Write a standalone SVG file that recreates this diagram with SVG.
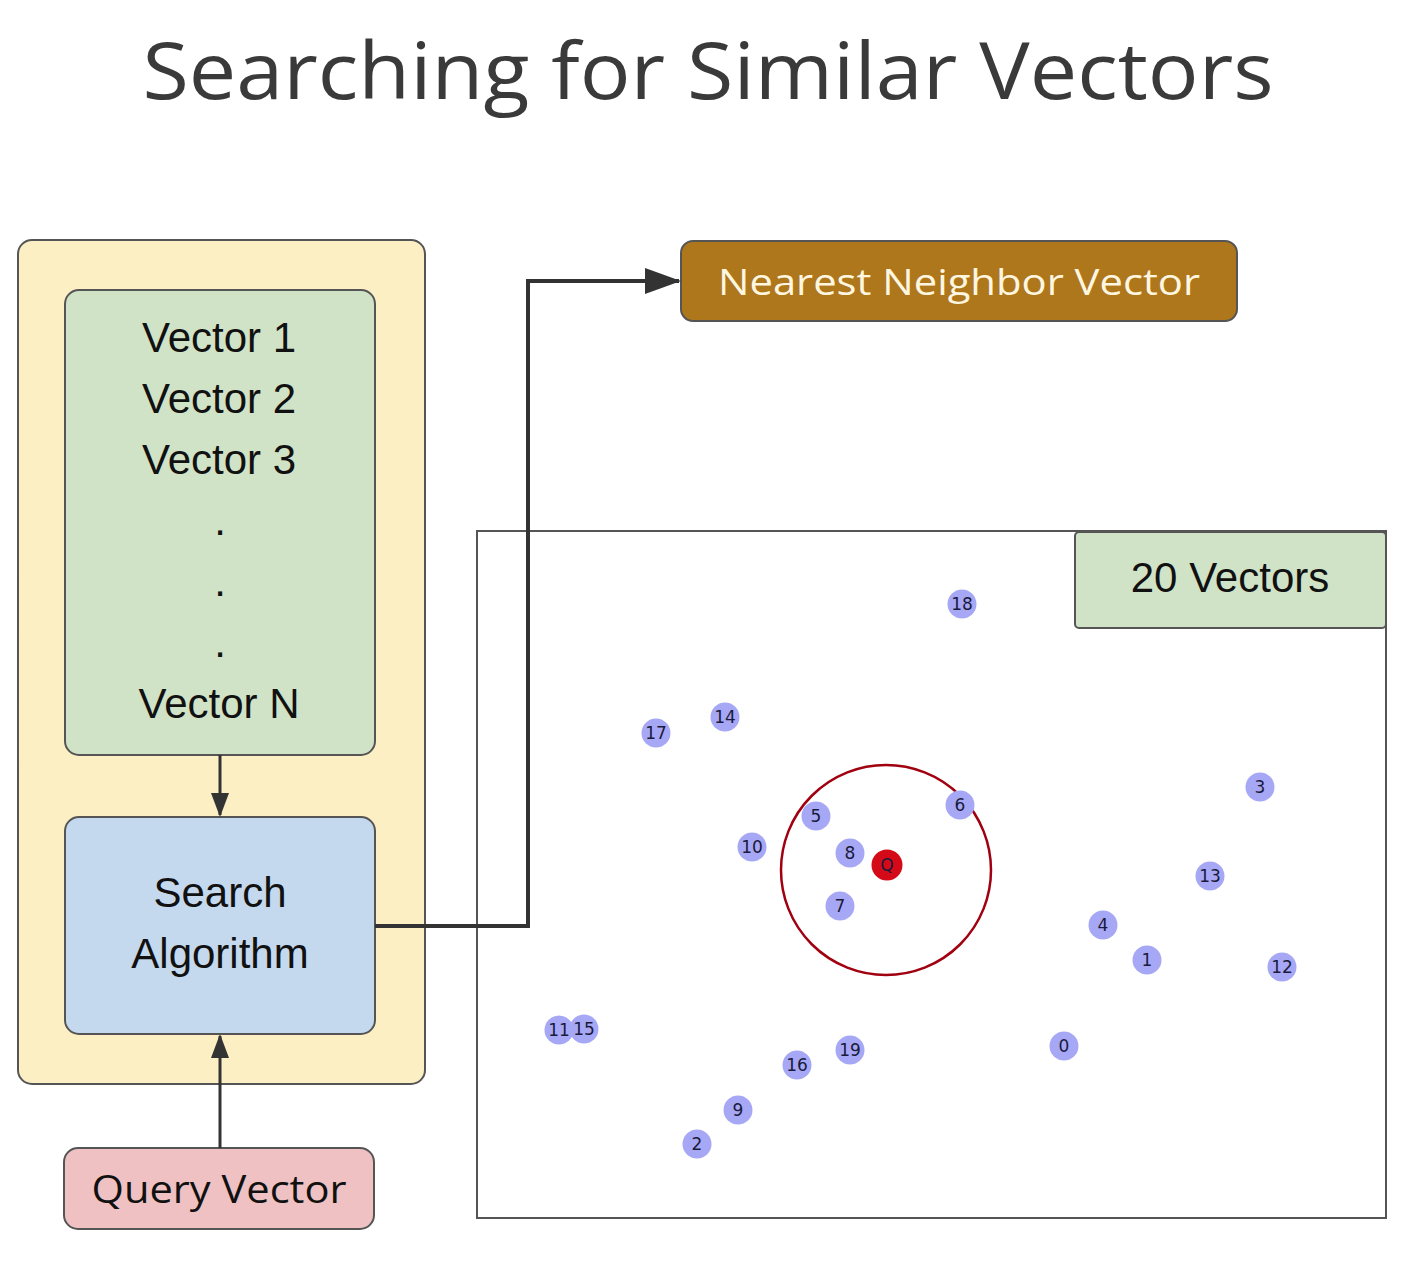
<svg xmlns="http://www.w3.org/2000/svg" width="1406" height="1266" viewBox="0 0 1406 1266">
<style>
.box{stroke:#555;stroke-width:2}
.big{font-family:"Liberation Sans",Arial,sans-serif;font-size:42px;fill:#111;text-anchor:middle}
.geo{font-family:"Open Sans","Noto Sans",sans-serif;text-anchor:middle}
.conn{fill:none;stroke:#333;stroke-width:4}
.pt{fill:#a6a8f6}
.pl{font-family:"DejaVu Sans",sans-serif;font-size:17px;fill:#1a1a3a;text-anchor:middle}
</style>
<defs>
<marker id="ahb" markerWidth="36" markerHeight="26" refX="34" refY="13" orient="auto" markerUnits="userSpaceOnUse" viewBox="0 0 36 26">
<path d="M0,0 L36,13 L0,26 z" fill="#333"/>
</marker>
<marker id="ahs" markerWidth="24" markerHeight="18" refX="22" refY="9" orient="auto" markerUnits="userSpaceOnUse" viewBox="0 0 24 18">
<path d="M0,0 L24,9 L0,18 z" fill="#333"/>
</marker>
</defs>

<text x="708" y="99" class="geo" font-size="78" fill="#3a3a3a" textLength="1131" lengthAdjust="spacingAndGlyphs">Searching for Similar Vectors</text>

<g id="db-container">
<rect x="18" y="240" width="407" height="844" rx="14" class="box" fill="#fdefc4"/>
</g>
<g id="vectors">
<rect x="65" y="290" width="310" height="465" rx="14" class="box" fill="#d0e3c7"/>
<text x="219" y="352" class="big">Vector 1</text>
<text x="219" y="413" class="big">Vector 2</text>
<text x="219" y="474" class="big">Vector 3</text>
<text x="220" y="535" class="big">.</text>
<text x="220" y="596" class="big">.</text>
<text x="220" y="657" class="big">.</text>
<text x="219" y="718" class="big">Vector N</text>
</g>
<g id="search">
<rect x="65" y="817" width="310" height="217" rx="14" class="box" fill="#c5d9ee"/>
<text x="220" y="907" class="big">Search</text>
<text x="220" y="968" class="big">Algorithm</text>
</g>
<g id="query">
<rect x="64" y="1148" width="310" height="81" rx="14" class="box" fill="#efc1c2"/>
<text x="219" y="1203" class="geo" font-size="39" fill="#111" textLength="255" lengthAdjust="spacingAndGlyphs">Query Vector</text>
</g>
<g id="nearest">
<rect x="681" y="241" width="556" height="80" rx="12" class="box" fill="#ae771b"/>
<text x="959" y="295" class="geo" font-size="37" fill="#fff6e0" textLength="482" lengthAdjust="spacingAndGlyphs">Nearest Neighbor Vector</text>
</g>

<g id="plot">
<rect x="477" y="531" width="909" height="687" fill="none" stroke="#555" stroke-width="2"/>
</g>

<g id="connectors">
<path d="M220,755 V815" fill="none" stroke="#333" stroke-width="3" marker-end="url(#ahs)"/>
<path d="M220,1148 V1036" fill="none" stroke="#333" stroke-width="3" marker-end="url(#ahs)"/>
<path d="M375,926 H528 V281 H679" class="conn" marker-end="url(#ahb)"/>
</g>

<g id="label-20">
<rect x="1075" y="532" width="311" height="96" rx="4" class="box" fill="#d0e3c7"/>
<text x="1230" y="592" class="big">20 Vectors</text>
</g>

<g id="radius">
<circle cx="886" cy="870" r="105" fill="none" stroke="#a00010" stroke-width="2.5"/>
</g>

<g id="points">
<g id="p18"><circle cx="962" cy="604" r="14.5" class="pt"/><text x="962" y="610" class="pl">18</text></g>
<g id="p14"><circle cx="725" cy="717" r="14.5" class="pt"/><text x="725" y="723" class="pl">14</text></g>
<g id="p17"><circle cx="656" cy="733" r="14.5" class="pt"/><text x="656" y="739" class="pl">17</text></g>
<g id="p5"><circle cx="816" cy="816" r="14.5" class="pt"/><text x="816" y="822" class="pl">5</text></g>
<g id="p6"><circle cx="960" cy="805" r="14.5" class="pt"/><text x="960" y="811" class="pl">6</text></g>
<g id="p10"><circle cx="752" cy="847" r="14.5" class="pt"/><text x="752" y="853" class="pl">10</text></g>
<g id="p8"><circle cx="850" cy="853" r="14.5" class="pt"/><text x="850" y="859" class="pl">8</text></g>
<g id="p7"><circle cx="840" cy="906" r="14.5" class="pt"/><text x="840" y="912" class="pl">7</text></g>
<g id="p3"><circle cx="1260" cy="787" r="14.5" class="pt"/><text x="1260" y="793" class="pl">3</text></g>
<g id="p13"><circle cx="1210" cy="876" r="14.5" class="pt"/><text x="1210" y="882" class="pl">13</text></g>
<g id="p4"><circle cx="1103" cy="925" r="14.5" class="pt"/><text x="1103" y="931" class="pl">4</text></g>
<g id="p1"><circle cx="1147" cy="960" r="14.5" class="pt"/><text x="1147" y="966" class="pl">1</text></g>
<g id="p12"><circle cx="1282" cy="967" r="14.5" class="pt"/><text x="1282" y="973" class="pl">12</text></g>
<g id="p0"><circle cx="1064" cy="1046" r="14.5" class="pt"/><text x="1064" y="1052" class="pl">0</text></g>
<g id="p11"><circle cx="559" cy="1030" r="14.5" class="pt"/><text x="559" y="1036" class="pl">11</text></g>
<g id="p15"><circle cx="584" cy="1029" r="14.5" class="pt"/><text x="584" y="1035" class="pl">15</text></g>
<g id="p16"><circle cx="797" cy="1065" r="14.5" class="pt"/><text x="797" y="1071" class="pl">16</text></g>
<g id="p19"><circle cx="850" cy="1050" r="14.5" class="pt"/><text x="850" y="1056" class="pl">19</text></g>
<g id="p9"><circle cx="738" cy="1110" r="14.5" class="pt"/><text x="738" y="1116" class="pl">9</text></g>
<g id="p2"><circle cx="697" cy="1144" r="14.5" class="pt"/><text x="697" y="1150" class="pl">2</text></g>
<g id="pQ"><circle cx="887" cy="865" r="15.5" fill="#d40a18"/><text x="887" y="871" class="pl" fill="#6a0008">Q</text></g>
</g>
</svg>
